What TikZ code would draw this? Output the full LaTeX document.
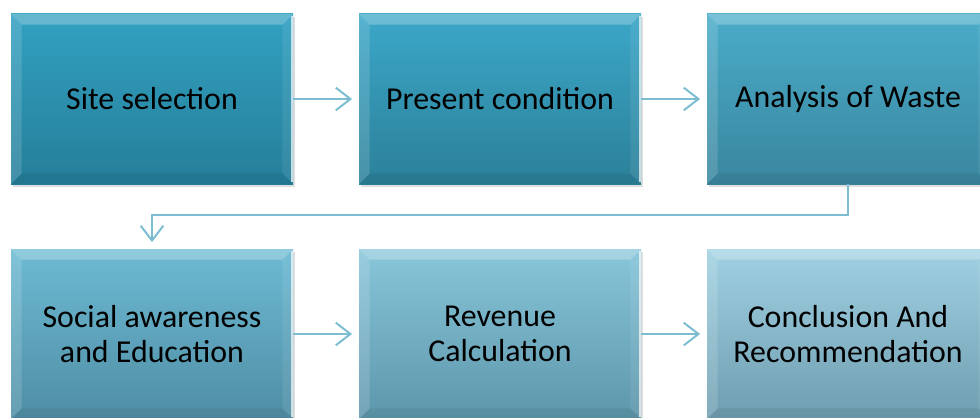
\documentclass[tikz,border=0pt]{standalone}
\usepackage{fontspec}
\setmainfont{Carlito}
\usepackage{xcolor}
\usetikzlibrary{arrows.meta,calc,shadows}

\definecolor{arrowteal}{HTML}{7CBDD2}

% bevel edges of a stage box
\newcommand{\bevel}[1]{%
  \fill[white, opacity=0.25] (#1.north west) -- (#1.north east)
    -- ($(#1.north east)+(-11,11)$) -- ($(#1.north west)+(11,11)$) -- cycle;
  \fill[white, opacity=0.14] (#1.north west) -- ($(#1.north west)+(11,11)$)
    -- ($(#1.south west)+(11,-11)$) -- (#1.south west) -- cycle;
  \fill[white, opacity=0.08] (#1.north east) -- ($(#1.north east)+(-11,11)$)
    -- ($(#1.south east)+(-11,-11)$) -- (#1.south east) -- cycle;
  \fill[black, opacity=0.06] (#1.south west) -- ($(#1.south west)+(11,-11)$)
    -- ($(#1.south east)+(-11,-11)$) -- (#1.south east) -- cycle;
  \draw[white, opacity=0.7, line width=1.5pt] ($(#1.north east)+(-1,2)$) -- ($(#1.south east)+(-1,-2)$);
}

\begin{document}
\begin{tikzpicture}[x=0.75pt, y=-0.75pt,
  stage/.style={minimum width=211.5pt, minimum height=127.5pt, inner sep=0pt,
    align=center, font=\fontsize{23.9}{26.3}\selectfont, text=black,
    drop shadow={shadow xshift=1.5pt, shadow yshift=-2.5pt, opacity=0.25}},
  flow/.style={draw=arrowteal, line width=1.5pt,
    -{Straight Barb[length=11pt, width=17pt, line width=1.5pt]}},
]
\useasboundingbox (0,0) rectangle (980,417);

% --- top row ---
\node[stage, top color={rgb,255:red,50;green,161;blue,193}, bottom color={rgb,255:red,37;green,126;blue,153}]
  (site) at (152,99) {Site selection};
\node[stage, top color={rgb,255:red,60;green,167;blue,200}, bottom color={rgb,255:red,43;green,128;blue,153}]
  (present) at (500,99) {Present condition};
\node[stage, top color={rgb,255:red,74;green,172;blue,201}, bottom color={rgb,255:red,58;green,134;blue,158}]
  (waste) at (848,99) {Analysis of Waste};

% --- bottom row ---
\node[stage, top color={rgb,255:red,109;green,186;blue,211}, bottom color={rgb,255:red,79;green,142;blue,165}]
  (social) at (152,334) {Social awareness\\and Education};
\node[stage, top color={rgb,255:red,136;green,198;blue,218}, bottom color={rgb,255:red,93;green,150;blue,170}]
  (revenue) at (500,334) {Revenue\\Calculation};
\node[stage, top color={rgb,255:red,160;green,209;blue,226}, bottom color={rgb,255:red,110;green,157;blue,176}]
  (conclusion) at (848,334) {Conclusion And\\Recommendation};

\bevel{site}
\bevel{present}
\bevel{waste}
\bevel{social}
\bevel{revenue}
\bevel{conclusion}

% connectors
\draw[flow, shorten >=5pt] (site.east) -- (present.west);
\draw[flow, shorten >=5pt] (present.east) -- (waste.west);
\draw[flow, shorten >=5pt] (waste.south) -- ++(0,31) -| (social.north);
\draw[flow, shorten >=5pt] (social.east) -- (revenue.west);
\draw[flow, shorten >=5pt] (revenue.east) -- (conclusion.west);
\end{tikzpicture}
\end{document}
